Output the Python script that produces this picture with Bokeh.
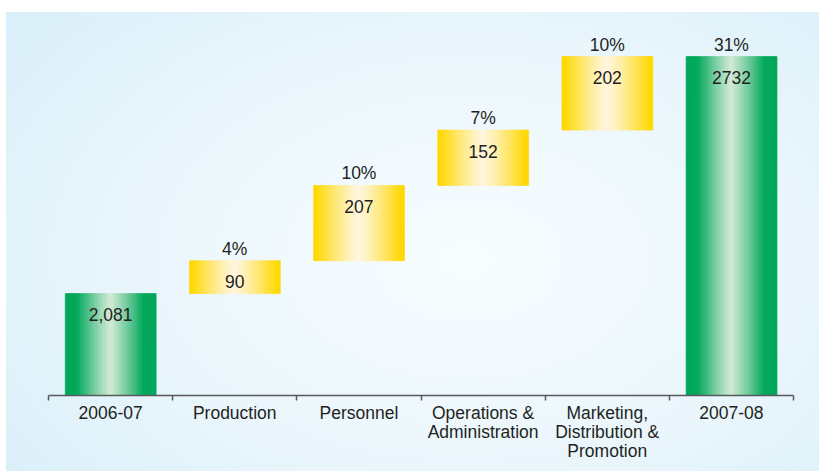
from bokeh.plotting import figure
from bokeh.models import ColumnDataSource, Range1d, FixedTicker
from bokeh.core.properties import value
from bokeh.embed import file_html
from bokeh.resources import INLINE

# ---- data ----
categories = ["2006-07", "Production", "Personnel", "Operations &\nAdministration",
              "Marketing,\nDistribution &\nPromotion", "2007-08"]
kinds = ["total", "step", "step", "step", "step", "total"]
amounts = [2081, 90, 207, 152, 202, 2732]
value_labels = ["2,081", "90", "207", "152", "202", "2732"]
pct_labels = ["", "4%", "10%", "7%", "10%", "31%"]

# ---- waterfall geometry from data ----
bottoms, tops = [], []
running = 0
for k, a in zip(kinds, amounts):
    if k == "total":
        bottoms.append(0)
        tops.append(a)
        running = a
    else:
        bottoms.append(running)
        tops.append(running + a)
        running += a

W = 0.73
N = 48


def hex2rgb(h):
    h = h.lstrip("#")
    return tuple(int(h[i:i + 2], 16) for i in (0, 2, 4))


def mix(c1, c2, t):
    a, b = hex2rgb(c1), hex2rgb(c2)
    return "#%02x%02x%02x" % tuple(int(round(a[i] + (b[i] - a[i]) * t)) for i in range(3))


GREEN_EDGE, GREEN_MID = "#00a85a", "#d2ead6"
YEL_EDGE, YEL_MID = "#ffd800", "#fff6de"

L, R, B, T, C = [], [], [], [], []
for i, k in enumerate(kinds):
    x0 = i - W / 2
    for s in range(N):
        u = (s + 0.5) / N
        d = abs(u - 0.5) / 0.5
        if k == "total":
            t = min(d / 0.74, 1.0)
            col = mix(GREEN_MID, GREEN_EDGE, t ** 1.1)
        else:
            t = min(d / 0.95, 1.0)
            col = mix(YEL_MID, YEL_EDGE, t ** 1.2)
        L.append(x0 + s * W / N)
        R.append(x0 + (s + 1) * W / N + 0.002)
        B.append(bottoms[i])
        T.append(tops[i])
        C.append(col)

strips = ColumnDataSource(dict(left=L, right=R, bottom=B, top=T, color=C))
labels = ColumnDataSource(dict(x=list(range(len(categories))), top=tops,
                               val=value_labels, pct=pct_labels))

p = figure(width=819, height=471, output_backend="svg", toolbar_location=None,
           x_range=Range1d(-0.5, 5.5), y_range=Range1d(1801, 2886),
           y_axis_location=None, min_border_left=48, min_border_right=26,
           min_border_top=0, min_border_bottom=76)
p.border_fill_color = None
p.background_fill_color = None
p.outline_line_color = None
p.grid.visible = False
p.styles = {
    "background": "linear-gradient(#ffffff,#ffffff) top left / 100% 12px no-repeat, "
                  "linear-gradient(#ffffff,#ffffff) top left / 6px 100% no-repeat, "
                  "radial-gradient(ellipse 72% 82% at 57% 55%, #f8fdff 0%, #eaf6fc 55%, #d9eff9 100%)"
}

p.quad(left="left", right="right", bottom="bottom", top="top", source=strips,
       fill_color="color", line_color="color", line_width=0.6)

p.text(x="x", y="top", text="val", source=labels, text_align="center",
       text_baseline="middle", y_offset=21, text_font=value("Liberation Sans"),
       text_font_size="17.5px", text_color="#231f20")
p.text(x="x", y="top", text="pct", source=labels, text_align="center",
       text_baseline="middle", y_offset=-12, text_font=value("Liberation Sans"),
       text_font_size="17.5px", text_color="#231f20")

ax = p.xaxis[0]
ax.ticker = FixedTicker(ticks=list(range(len(categories))),
                        minor_ticks=[i - 0.5 for i in range(len(categories) + 1)])
ax.major_label_overrides = {i: c for i, c in enumerate(categories)}
ax.major_tick_line_color = None
ax.major_tick_in = 0
ax.major_tick_out = 0
ax.minor_tick_in = 0
ax.minor_tick_out = 5
ax.minor_tick_line_color = "#58595b"
ax.minor_tick_line_width = 1.5
ax.axis_line_color = "#58595b"
ax.axis_line_width = 1.5
ax.major_label_standoff = 2
ax.major_label_text_font = "Liberation Sans"
ax.major_label_text_font_size = "17.5px"
ax.major_label_text_line_height = 0.95
ax.major_label_text_color = "#231f20"

open("out.html", "w").write(file_html(p, INLINE))
